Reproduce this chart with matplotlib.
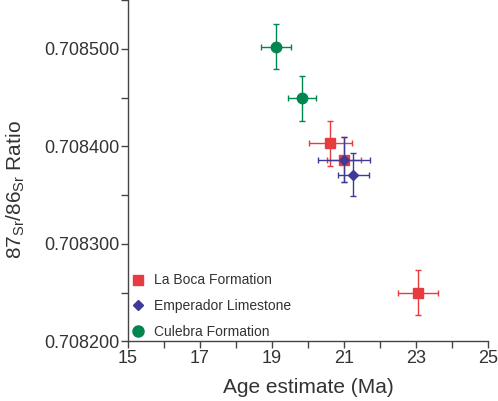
import matplotlib
matplotlib.use("Agg")
import matplotlib.pyplot as plt
from matplotlib.lines import Line2D
from matplotlib.ticker import MultipleLocator, FormatStrFormatter, FixedLocator

plt.rcParams['font.family'] = ['Liberation Sans', 'DejaVu Sans']
plt.rcParams['mathtext.fontset'] = 'custom'
plt.rcParams['mathtext.rm'] = 'Liberation Sans'

# La Boca Formation
laboca_age = [20.62, 21.0, 23.06]
laboca_age_err = [0.59, 0.48, 0.55]
laboca_sr = [0.708403, 0.708386, 0.708250]
laboca_sr_err = [0.000023, 0.000023, 0.000023]

# Emperador Limestone
emp_age = [21.0, 21.26]
emp_age_err = [0.71, 0.43]
emp_sr = [0.708386, 0.708371]
emp_sr_err = [0.000023, 0.0000225]

# Culebra Formation
cul_age = [19.12, 19.84]
cul_age_err = [0.42, 0.39]
cul_sr = [0.708502, 0.708449]
cul_sr_err = [0.000023, 0.000023]

xticks = [15, 17, 19, 21, 23, 25]

red = '#E63B3F'
blue = '#3F3A98'
green = '#00874F'

fig = plt.figure(figsize=(4.98, 4.01), dpi=100)
ax = fig.add_axes([0.257, 0.149, 0.723, 0.851])

ax.errorbar(laboca_age, laboca_sr, xerr=laboca_age_err, yerr=laboca_sr_err,
            fmt='s', color=red, ecolor=red, ms=6.5, elinewidth=1, capsize=2.5, capthick=1, mec=red)
ax.errorbar(emp_age, emp_sr, xerr=emp_age_err, yerr=emp_sr_err,
            fmt='D', color=blue, ecolor=blue, ms=5.5, elinewidth=1, capsize=2.5, capthick=1, mec=blue)
ax.errorbar(cul_age, cul_sr, xerr=cul_age_err, yerr=cul_sr_err,
            fmt='o', color=green, ecolor=green, ms=7.5, elinewidth=1, capsize=2.5, capthick=1, mec=green)

ax.set_xlim(15, 25)
ax.set_ylim(0.7082, 0.70855)
ax.xaxis.set_major_locator(FixedLocator(xticks))
ax.xaxis.set_minor_locator(MultipleLocator(1))
ax.yaxis.set_major_locator(MultipleLocator(0.0001))
ax.yaxis.set_minor_locator(MultipleLocator(0.00005))
ax.yaxis.set_major_formatter(FormatStrFormatter('%.6f'))

for s in ['top', 'right']:
    ax.spines[s].set_visible(False)
for s in ['left', 'bottom']:
    ax.spines[s].set_color('#444444')
    ax.spines[s].set_linewidth(1)
ax.tick_params(which='both', direction='out', length=5, width=1, color='#444444',
               labelsize=13, labelcolor='#333333', pad=1)

ax.set_xlabel('Age estimate (Ma)', fontsize=15, color='#333333', labelpad=8)
ax.set_ylabel(r'87$_{\rm Sr}$/86$_{\rm Sr}$ Ratio', fontsize=15, color='#333333')
ax.yaxis.set_label_coords(-0.28, 0.445)

handles = [
    Line2D([], [], marker='s', color=red, ls='none', ms=7),
    Line2D([], [], marker='D', color=blue, ls='none', ms=5.5),
    Line2D([], [], marker='o', color=green, ls='none', ms=8),
]
labels = ['La Boca Formation', 'Emperador Limestone', 'Culebra Formation']
ax.legend(handles, labels, loc='lower left', bbox_to_anchor=(-0.025, -0.03), frameon=False,
          fontsize=10, handlelength=1.0, handletextpad=0.6, labelspacing=0.85,
          labelcolor='#333333')

fig.savefig('out.png', dpi=100)
